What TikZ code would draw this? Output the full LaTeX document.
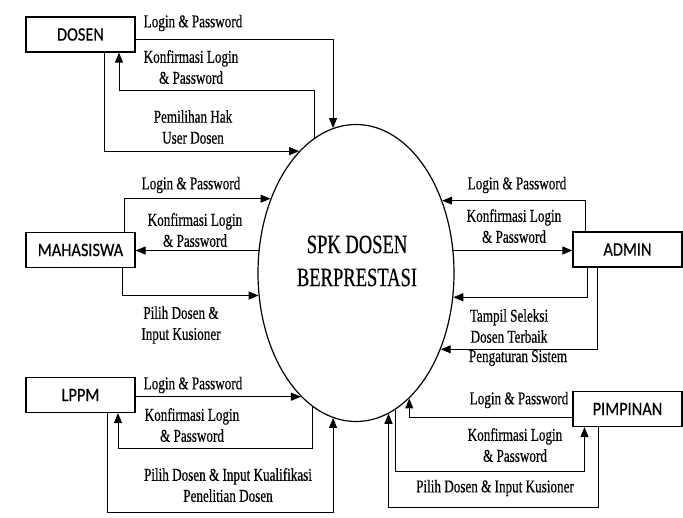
\documentclass[tikz,border=0pt]{standalone}
\usepackage{fontspec}
\setmainfont{Liberation Serif}
\newfontfamily\lblfont{Liberation Serif}[FakeStretch=0.73,FakeBold=0.4]
\newfontfamily\ctrfont{Liberation Serif}[FakeStretch=0.70,FakeBold=0.3]
\newfontfamily\boxfont{Carlito}[FakeStretch=0.86,FakeBold=0.4]
\usetikzlibrary{arrows.meta,calc,shapes.geometric}
\begin{document}
\begin{tikzpicture}[x=1pt,y=-1pt,
  ent/.style={draw, line width=1.2pt, minimum width=109pt, minimum height=35pt, inner sep=0pt, font=\boxfont\fontsize{19}{20}\selectfont},
  flow/.style={line width=1pt, -{Triangle[length=10pt,width=8pt]}},
  lbl/.style={font=\lblfont\fontsize{18}{21}\selectfont, align=center, inner sep=0pt}]
\fill[white] (0,0) rectangle (683,517);
\useasboundingbox (0,0) rectangle (683,517);

\node[ent] (dosen) at (80.5,34.5) {DOSEN};
\node[ent] (mah) at (80.5,250) {MAHASISWA};
\node[ent] (lppm) at (80.5,395) {LPPM};
\node[ent] (admin) at (627.5,249.5) {ADMIN};
\node[ent] (pim) at (627.5,409) {PIMPINAN};

\node[draw, ellipse, minimum width=196pt, minimum height=297pt, inner sep=0pt, line width=1.2pt] (spk) at (356,273) {};
\node[font=\ctrfont\fontsize{26.5}{33}\selectfont, align=center, inner sep=0pt] (spktxt) at (357,261) {SPK DOSEN\\BERPRESTASI};

% DOSEN
\draw[flow] ($(dosen.east)+(0,5)$) -| (spk.99.46);
\draw[flow] (spk.107.87) -- (spk.107.87 |- 0,90) -| ($(dosen.south)+(38.5,0)$);
\draw[flow] ($(dosen.south)+(23.5,0)$) |- (spk.115.67);
% MAHASISWA
\draw[flow] ($(mah.north)+(43.5,0)$) |- (spk.139.4);
\draw[flow] (spk.167.8) -- (spk.167.8 -| mah.east);
\draw[flow] ($(mah.south)+(41.5,0)$) |- (spk.193.9);
% LPPM
\draw[flow] (spk.246.5 -| lppm.east) -- (spk.246.5);
\draw[flow] (spk.252.13) -- (spk.252.13 |- 0,448) -| ($(lppm.south)+(37.5,0)$);
\draw[flow] ($(lppm.south)+(26.5,0)$) |- (spk.261.76 |- 0,512) -- (spk.261.76);
% ADMIN
\draw[flow] ($(admin.north)+(-42.5,0)$) |- (spk.40.56);
\draw[flow] (spk.13.94) -- (spk.13.94 -| admin.west);
\draw[flow] ($(admin.south)+(-40.5,0)$) |- (spk.346.06);
\draw[flow] ($(admin.south)+(-30.5,0)$) |- (spk.318.44);
% PIMPINAN
\draw[flow] ($(pim.west)+(0,8)$) -| (spk.293.55);
\draw[flow] (spk.286.91) -- (spk.286.91 |- 0,471) -| ($(pim.south)+(-43,0)$);
\draw[flow] ($(pim.south)+(-29,0)$) |- (spk.283.28 |- 0,507) -- (spk.283.28);

% labels
\node[lbl] (l1) at (193,23) {Login \& Password};
\node[lbl] (l2) at (191,67) {Konfirmasi Login\\\& Password};
\node[lbl] (l3) at (193,127) {Pemilihan Hak\\User Dosen};
\node[lbl] (l4) at (191,185) {Login \& Password};
\node[lbl] (l5) at (195,230) {Konfirmasi Login\\\& Password};
\node[lbl] (l6) at (181,325) {Pilih Dosen \&\\Input Kusioner};
\node[lbl] (l7) at (193,385) {Login \& Password};
\node[lbl] (l8) at (192,425) {Konfirmasi Login\\\& Password};
\node[lbl] (l9) at (228,485) {Pilih Dosen \& Input Kualifikasi\\Penelitian Dosen};
\node[lbl] (l10) at (517,185) {Login \& Password};
\node[lbl] (l11) at (514,226) {Konfirmasi Login\\\& Password};
\node[lbl] (l12) at (509,326) {Tampil Seleksi\\Dosen Terbaik};
\node[lbl] (l13) at (518,358) {Pengaturan Sistem};
\node[lbl] (l14) at (519,400) {Login \& Password};
\node[lbl] (l15) at (515,445) {Konfirmasi Login\\\& Password};
\node[lbl] (l16) at (495,488) {Pilih Dosen \& Input Kusioner};
\end{tikzpicture}
\end{document}
